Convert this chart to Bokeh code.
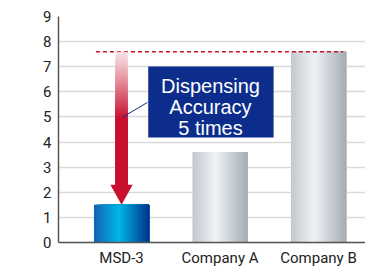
import numpy as np
from bokeh.plotting import figure
from bokeh.models import Range1d, FixedTicker, Span
from bokeh.embed import file_html
from bokeh.resources import INLINE
from bokeh.core.properties import value

# ---- data ----
categories = ["MSD-3", "Company A", "Company B"]
accuracy = [1.5, 3.6, 7.6]
y_ticks = [0, 1, 2, 3, 4, 5, 6, 7, 8, 9]
callout_lines = ["Dispensing", "Accuracy", "5 times"]

positions = list(range(1, len(categories) + 1))
bar_w = 0.56

def lerp_stops(stops, t):
    for (t0, c0), (t1, c1) in zip(stops[:-1], stops[1:]):
        if t0 <= t <= t1:
            f = (t - t0) / (t1 - t0) if t1 > t0 else 0
            c = [int(round(a + (b - a) * f)) for a, b in zip(c0, c1)]
            return "#%02x%02x%02x" % tuple(c)
    return "#%02x%02x%02x" % tuple(stops[-1][1])

blue_stops = [(0.0, (18, 98, 178)), (0.45, (0, 182, 234)), (1.0, (2, 52, 138))]
grey_stops = [(0.0, (194, 200, 206)), (0.42, (239, 243, 246)), (1.0, (164, 172, 179))]

# frame covers the category-label strip below zero as well
p = figure(width=365, height=267,
           x_range=Range1d(0.36, 3.477), y_range=Range1d(-0.996, 9),
           min_border_left=58, min_border_right=0, min_border_top=16,
           min_border_bottom=0,
           output_backend="svg", toolbar_location=None)
p.outline_line_color = None
p.background_fill_color = "white"
p.border_fill_color = "white"

# grid
p.xgrid.grid_line_color = None
p.ygrid.ticker = FixedTicker(ticks=y_ticks)
p.ygrid.grid_line_color = "#d9d9d9"
p.ygrid.grid_line_width = 1.5

# y axis
p.yaxis.ticker = FixedTicker(ticks=y_ticks)
p.yaxis.bounds = (y_ticks[0], y_ticks[-1])
p.yaxis.axis_line_color = "#555555"
p.yaxis.axis_line_width = 1.5
p.yaxis.major_tick_line_color = None
p.yaxis.minor_tick_line_color = None
p.yaxis.major_tick_out = 0
p.yaxis.major_tick_in = 0
p.yaxis.major_label_text_font = "Roboto"
p.yaxis.major_label_text_color = "#222222"
p.yaxis.major_label_text_font_size = "15px"
p.yaxis.major_label_standoff = 7

# x axis: base line plus category names
p.xaxis.visible = False

# bars as gradient strips (each strip runs to the bar's right edge, drawn left to right)
n = 40
L, R, T, C = [], [], [], []
for i, (pos, val) in enumerate(zip(positions, accuracy)):
    stops = blue_stops if i == 0 else grey_stops
    x0 = pos - bar_w / 2
    for k in range(n):
        L.append(x0 + k * bar_w / n); R.append(pos + bar_w / 2); T.append(val)
        C.append(lerp_stops(stops, (k + 0.5) / n))
p.quad(left=L, right=R, bottom=0, top=T, fill_color=C, line_color=None)

p.add_layout(Span(location=0, dimension="width", line_color="#555555", line_width=1.5))
p.text(x=positions, y=[-0.60] * len(positions), text=categories,
       text_font=value("Roboto"), text_font_size="15px", text_color="#222222",
       text_align="center", text_baseline="middle")

# dashed reference line at the worst value
best, worst = accuracy[0], max(accuracy)
p.segment(x0=[positions[0] - bar_w / 2 + 0.02], y0=[worst],
          x1=[positions[-1] + bar_w / 2 - 0.03], y1=[worst],
          line_color="#c8102e", line_width=1.5, line_dash="4 3")

# arrow shaft with fade (each band runs down to the head, drawn top to bottom)
red = (200, 16, 46)
shaft_half = 0.059
head_half = 0.113
head_top = best + 0.8
fade_end = 4.95
m = 60
sb, st, sc = [], [], []
for k in range(m):
    y1 = worst - k * (worst - fade_end) / m
    t = 0.12 + 0.88 * ((k + 0.5) / m) ** 1.1
    c = [int(round(255 + (a - 255) * t)) for a in red]
    sb.append(head_top - 0.02); st.append(y1); sc.append("#%02x%02x%02x" % tuple(c))
sb.append(head_top - 0.02); st.append(fade_end); sc.append("#c8102e")
p.quad(left=positions[0] - shaft_half, right=positions[0] + shaft_half,
       bottom=sb, top=st, fill_color=sc, line_color=None)
p.patch(x=[positions[0] - head_half, positions[0] + head_half, positions[0]],
        y=[head_top, head_top, best], fill_color="#c8102e", line_color=None)

# callout
p.segment(x0=[1.264], y0=[5.58], x1=[1.007], y1=[4.98],
          line_color="#0d2d8c", line_width=1)
p.quad(left=[1.271], right=[2.544], bottom=[4.183], top=[7.012],
       fill_color="#0d2d8c", line_color=None)
p.text(x=[1.903] * 3, y=[6.215, 5.378, 4.542], text=callout_lines,
       text_font=value("Liberation Sans"), text_font_size="20px",
       text_color="white", text_align="center", text_baseline="alphabetic")

open("out.html", "w").write(file_html(p, INLINE))
